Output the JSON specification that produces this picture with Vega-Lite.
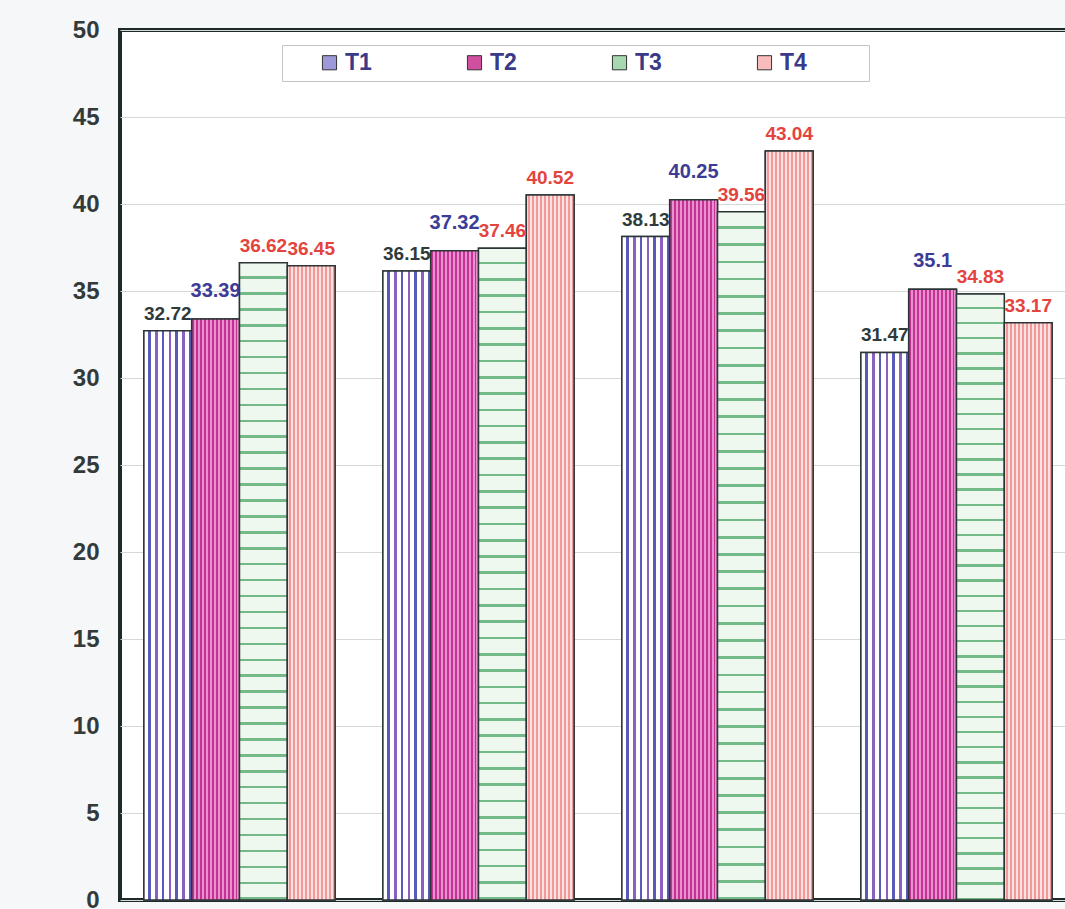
{
  "$schema": "https://vega.github.io/schema/vega-lite/v6.json",
  "width": 956,
  "height": 870,
  "autosize": {"type": "none"},
  "padding": {"left": 120, "top": 30, "right": 0, "bottom": 9},
  "background": "#f6f7f9",
  "config": {
    "view": {"stroke": "#1e2a2a", "strokeWidth": 4, "fill": "white"},
    "font": "Liberation Sans"
  },
  "data": {
    "values": [
      {"group": "G1", "series": "T1", "value": 32.72},
      {"group": "G1", "series": "T2", "value": 33.39},
      {"group": "G1", "series": "T3", "value": 36.62},
      {"group": "G1", "series": "T4", "value": 36.45},
      {"group": "G2", "series": "T1", "value": 36.15},
      {"group": "G2", "series": "T2", "value": 37.32},
      {"group": "G2", "series": "T3", "value": 37.46},
      {"group": "G2", "series": "T4", "value": 40.52},
      {"group": "G3", "series": "T1", "value": 38.13},
      {"group": "G3", "series": "T2", "value": 40.25},
      {"group": "G3", "series": "T3", "value": 39.56},
      {"group": "G3", "series": "T4", "value": 43.04},
      {"group": "G4", "series": "T1", "value": 31.47},
      {"group": "G4", "series": "T2", "value": 35.1},
      {"group": "G4", "series": "T3", "value": 34.83},
      {"group": "G4", "series": "T4", "value": 33.17}
    ]
  },
  "encoding": {
    "x": {"field": "group", "type": "nominal", "axis": null,
          "scale": {"paddingInner": 0.2, "paddingOuter": 0.1}},
    "xOffset": {"field": "series", "type": "nominal",
                "scale": {"domain": ["T1", "T2", "T3", "T4"], "paddingInner": 0, "paddingOuter": 0}},
    "y": {"field": "value", "type": "quantitative",
          "scale": {"domain": [0, 50], "nice": false},
          "axis": {"title": null, "values": [0, 5, 10, 15, 20, 25, 30, 35, 40, 45, 50],
                   "domain": false, "ticks": false, "labelPadding": 21,
                   "labelFont": "Liberation Sans", "labelFontWeight": "bold", "labelFontSize": 24,
                   "labelColor": "#333a3a", "gridColor": "#d6d8d8", "gridWidth": 1}}
  },
  "layer": [
    {
      "mark": {"type": "bar", "stroke": "#2b3535", "strokeWidth": 1.5},
      "encoding": {
        "fill": {"field": "series", "type": "nominal",
                 "scale": {"domain": ["T1", "T2", "T3", "T4"],
                           "range": ["#9d98d8", "#d0509f", "#a8d8b0", "#f8bcbc"]},
                 "legend": {"title": "\u2003", "titleOrient": "right", "titlePadding": 56, "titleFontSize": 22,
                            "orient": "none", "legendX": 162, "legendY": 15,
                            "direction": "horizontal", "fillColor": "white", "strokeColor": "#c4c4c4",
                            "padding": 6, "symbolType": "square", "symbolSize": 200,
                            "symbolStrokeColor": "#333", "symbolStrokeWidth": 1,
                            "symbolOffset": 30, "columnPadding": 61,
                            "labelFont": "Liberation Sans", "labelFontWeight": "bold", "labelFontSize": 23,
                            "labelColor": "#3a3a88", "labelOffset": 4}}
      }
    },
    {
      "transform": [{"filter": "datum.series === 'T1'"}],
      "mark": {"type": "bar", "stroke": "#2b3535", "strokeWidth": 1.5,
               "fill": {"gradient": "linear", "x1": 0, "y1": 0, "x2": 1, "y2": 0, "stops": [
                 {"offset": 0, "color": "#ffffff"}, {"offset": 0.09, "color": "#ffffff"}, {"offset": 0.09, "color": "#5a5ab8"}, {"offset": 0.143, "color": "#5a5ab8"},
                 {"offset": 0.143, "color": "#ffffff"}, {"offset": 0.233, "color": "#ffffff"}, {"offset": 0.233, "color": "#8a60c0"}, {"offset": 0.286, "color": "#8a60c0"},
                 {"offset": 0.286, "color": "#ffffff"}, {"offset": 0.376, "color": "#ffffff"}, {"offset": 0.376, "color": "#5a5ab8"}, {"offset": 0.429, "color": "#5a5ab8"},
                 {"offset": 0.429, "color": "#ffffff"}, {"offset": 0.519, "color": "#ffffff"}, {"offset": 0.519, "color": "#8a60c0"}, {"offset": 0.571, "color": "#8a60c0"},
                 {"offset": 0.571, "color": "#ffffff"}, {"offset": 0.661, "color": "#ffffff"}, {"offset": 0.661, "color": "#5a5ab8"}, {"offset": 0.714, "color": "#5a5ab8"},
                 {"offset": 0.714, "color": "#ffffff"}, {"offset": 0.804, "color": "#ffffff"}, {"offset": 0.804, "color": "#8a60c0"}, {"offset": 0.857, "color": "#8a60c0"},
                 {"offset": 0.857, "color": "#ffffff"}, {"offset": 0.947, "color": "#ffffff"}, {"offset": 0.947, "color": "#5a5ab8"}, {"offset": 1, "color": "#5a5ab8"}
               ]}},
      "encoding": {}
    },
    {
      "transform": [{"filter": "datum.series === 'T2'"}],
      "mark": {"type": "bar", "stroke": "#2b3535", "strokeWidth": 1.5,
               "fill": {"gradient": "linear", "x1": 0, "y1": 0, "x2": 1, "y2": 0, "stops": [
                 {"offset": 0, "color": "#c23394"}, {"offset": 0.042, "color": "#c23394"}, {"offset": 0.042, "color": "#ea8fcf"}, {"offset": 0.083, "color": "#ea8fcf"},
                 {"offset": 0.083, "color": "#c23394"}, {"offset": 0.125, "color": "#c23394"}, {"offset": 0.125, "color": "#ea8fcf"}, {"offset": 0.167, "color": "#ea8fcf"},
                 {"offset": 0.167, "color": "#c23394"}, {"offset": 0.208, "color": "#c23394"}, {"offset": 0.208, "color": "#ea8fcf"}, {"offset": 0.25, "color": "#ea8fcf"},
                 {"offset": 0.25, "color": "#c23394"}, {"offset": 0.292, "color": "#c23394"}, {"offset": 0.292, "color": "#ea8fcf"}, {"offset": 0.333, "color": "#ea8fcf"},
                 {"offset": 0.333, "color": "#c23394"}, {"offset": 0.375, "color": "#c23394"}, {"offset": 0.375, "color": "#ea8fcf"}, {"offset": 0.417, "color": "#ea8fcf"},
                 {"offset": 0.417, "color": "#c23394"}, {"offset": 0.458, "color": "#c23394"}, {"offset": 0.458, "color": "#ea8fcf"}, {"offset": 0.5, "color": "#ea8fcf"},
                 {"offset": 0.5, "color": "#c23394"}, {"offset": 0.542, "color": "#c23394"}, {"offset": 0.542, "color": "#ea8fcf"}, {"offset": 0.583, "color": "#ea8fcf"},
                 {"offset": 0.583, "color": "#c23394"}, {"offset": 0.625, "color": "#c23394"}, {"offset": 0.625, "color": "#ea8fcf"}, {"offset": 0.667, "color": "#ea8fcf"},
                 {"offset": 0.667, "color": "#c23394"}, {"offset": 0.708, "color": "#c23394"}, {"offset": 0.708, "color": "#ea8fcf"}, {"offset": 0.75, "color": "#ea8fcf"},
                 {"offset": 0.75, "color": "#c23394"}, {"offset": 0.792, "color": "#c23394"}, {"offset": 0.792, "color": "#ea8fcf"}, {"offset": 0.833, "color": "#ea8fcf"},
                 {"offset": 0.833, "color": "#c23394"}, {"offset": 0.875, "color": "#c23394"}, {"offset": 0.875, "color": "#ea8fcf"}, {"offset": 0.917, "color": "#ea8fcf"},
                 {"offset": 0.917, "color": "#c23394"}, {"offset": 0.958, "color": "#c23394"}, {"offset": 0.958, "color": "#ea8fcf"}, {"offset": 1, "color": "#ea8fcf"}
               ]}},
      "encoding": {}
    },
    {
      "transform": [{"filter": "datum.series === 'T3'"}],
      "mark": {"type": "bar", "stroke": "#2b3535", "strokeWidth": 1.5,
               "fill": {"gradient": "linear", "x1": 0, "y1": 0, "x2": 0, "y2": 1, "stops": [
                 {"offset": 0, "color": "#eef8ef"}, {"offset": 0.021, "color": "#eef8ef"}, {"offset": 0.021, "color": "#74b988"}, {"offset": 0.025, "color": "#74b988"},
                 {"offset": 0.025, "color": "#eef8ef"}, {"offset": 0.046, "color": "#eef8ef"}, {"offset": 0.046, "color": "#74b988"}, {"offset": 0.05, "color": "#74b988"},
                 {"offset": 0.05, "color": "#eef8ef"}, {"offset": 0.071, "color": "#eef8ef"}, {"offset": 0.071, "color": "#74b988"}, {"offset": 0.075, "color": "#74b988"},
                 {"offset": 0.075, "color": "#eef8ef"}, {"offset": 0.096, "color": "#eef8ef"}, {"offset": 0.096, "color": "#74b988"}, {"offset": 0.1, "color": "#74b988"},
                 {"offset": 0.1, "color": "#eef8ef"}, {"offset": 0.121, "color": "#eef8ef"}, {"offset": 0.121, "color": "#74b988"}, {"offset": 0.125, "color": "#74b988"},
                 {"offset": 0.125, "color": "#eef8ef"}, {"offset": 0.146, "color": "#eef8ef"}, {"offset": 0.146, "color": "#74b988"}, {"offset": 0.15, "color": "#74b988"},
                 {"offset": 0.15, "color": "#eef8ef"}, {"offset": 0.171, "color": "#eef8ef"}, {"offset": 0.171, "color": "#74b988"}, {"offset": 0.175, "color": "#74b988"},
                 {"offset": 0.175, "color": "#eef8ef"}, {"offset": 0.196, "color": "#eef8ef"}, {"offset": 0.196, "color": "#74b988"}, {"offset": 0.2, "color": "#74b988"},
                 {"offset": 0.2, "color": "#eef8ef"}, {"offset": 0.221, "color": "#eef8ef"}, {"offset": 0.221, "color": "#74b988"}, {"offset": 0.225, "color": "#74b988"},
                 {"offset": 0.225, "color": "#eef8ef"}, {"offset": 0.246, "color": "#eef8ef"}, {"offset": 0.246, "color": "#74b988"}, {"offset": 0.25, "color": "#74b988"},
                 {"offset": 0.25, "color": "#eef8ef"}, {"offset": 0.271, "color": "#eef8ef"}, {"offset": 0.271, "color": "#74b988"}, {"offset": 0.275, "color": "#74b988"},
                 {"offset": 0.275, "color": "#eef8ef"}, {"offset": 0.296, "color": "#eef8ef"}, {"offset": 0.296, "color": "#74b988"}, {"offset": 0.3, "color": "#74b988"},
                 {"offset": 0.3, "color": "#eef8ef"}, {"offset": 0.321, "color": "#eef8ef"}, {"offset": 0.321, "color": "#74b988"}, {"offset": 0.325, "color": "#74b988"},
                 {"offset": 0.325, "color": "#eef8ef"}, {"offset": 0.346, "color": "#eef8ef"}, {"offset": 0.346, "color": "#74b988"}, {"offset": 0.35, "color": "#74b988"},
                 {"offset": 0.35, "color": "#eef8ef"}, {"offset": 0.371, "color": "#eef8ef"}, {"offset": 0.371, "color": "#74b988"}, {"offset": 0.375, "color": "#74b988"},
                 {"offset": 0.375, "color": "#eef8ef"}, {"offset": 0.396, "color": "#eef8ef"}, {"offset": 0.396, "color": "#74b988"}, {"offset": 0.4, "color": "#74b988"},
                 {"offset": 0.4, "color": "#eef8ef"}, {"offset": 0.421, "color": "#eef8ef"}, {"offset": 0.421, "color": "#74b988"}, {"offset": 0.425, "color": "#74b988"},
                 {"offset": 0.425, "color": "#eef8ef"}, {"offset": 0.446, "color": "#eef8ef"}, {"offset": 0.446, "color": "#74b988"}, {"offset": 0.45, "color": "#74b988"},
                 {"offset": 0.45, "color": "#eef8ef"}, {"offset": 0.471, "color": "#eef8ef"}, {"offset": 0.471, "color": "#74b988"}, {"offset": 0.475, "color": "#74b988"},
                 {"offset": 0.475, "color": "#eef8ef"}, {"offset": 0.496, "color": "#eef8ef"}, {"offset": 0.496, "color": "#74b988"}, {"offset": 0.5, "color": "#74b988"},
                 {"offset": 0.5, "color": "#eef8ef"}, {"offset": 0.521, "color": "#eef8ef"}, {"offset": 0.521, "color": "#74b988"}, {"offset": 0.525, "color": "#74b988"},
                 {"offset": 0.525, "color": "#eef8ef"}, {"offset": 0.546, "color": "#eef8ef"}, {"offset": 0.546, "color": "#74b988"}, {"offset": 0.55, "color": "#74b988"},
                 {"offset": 0.55, "color": "#eef8ef"}, {"offset": 0.571, "color": "#eef8ef"}, {"offset": 0.571, "color": "#74b988"}, {"offset": 0.575, "color": "#74b988"},
                 {"offset": 0.575, "color": "#eef8ef"}, {"offset": 0.596, "color": "#eef8ef"}, {"offset": 0.596, "color": "#74b988"}, {"offset": 0.6, "color": "#74b988"},
                 {"offset": 0.6, "color": "#eef8ef"}, {"offset": 0.621, "color": "#eef8ef"}, {"offset": 0.621, "color": "#74b988"}, {"offset": 0.625, "color": "#74b988"},
                 {"offset": 0.625, "color": "#eef8ef"}, {"offset": 0.646, "color": "#eef8ef"}, {"offset": 0.646, "color": "#74b988"}, {"offset": 0.65, "color": "#74b988"},
                 {"offset": 0.65, "color": "#eef8ef"}, {"offset": 0.671, "color": "#eef8ef"}, {"offset": 0.671, "color": "#74b988"}, {"offset": 0.675, "color": "#74b988"},
                 {"offset": 0.675, "color": "#eef8ef"}, {"offset": 0.696, "color": "#eef8ef"}, {"offset": 0.696, "color": "#74b988"}, {"offset": 0.7, "color": "#74b988"},
                 {"offset": 0.7, "color": "#eef8ef"}, {"offset": 0.721, "color": "#eef8ef"}, {"offset": 0.721, "color": "#74b988"}, {"offset": 0.725, "color": "#74b988"},
                 {"offset": 0.725, "color": "#eef8ef"}, {"offset": 0.746, "color": "#eef8ef"}, {"offset": 0.746, "color": "#74b988"}, {"offset": 0.75, "color": "#74b988"},
                 {"offset": 0.75, "color": "#eef8ef"}, {"offset": 0.771, "color": "#eef8ef"}, {"offset": 0.771, "color": "#74b988"}, {"offset": 0.775, "color": "#74b988"},
                 {"offset": 0.775, "color": "#eef8ef"}, {"offset": 0.796, "color": "#eef8ef"}, {"offset": 0.796, "color": "#74b988"}, {"offset": 0.8, "color": "#74b988"},
                 {"offset": 0.8, "color": "#eef8ef"}, {"offset": 0.821, "color": "#eef8ef"}, {"offset": 0.821, "color": "#74b988"}, {"offset": 0.825, "color": "#74b988"},
                 {"offset": 0.825, "color": "#eef8ef"}, {"offset": 0.846, "color": "#eef8ef"}, {"offset": 0.846, "color": "#74b988"}, {"offset": 0.85, "color": "#74b988"},
                 {"offset": 0.85, "color": "#eef8ef"}, {"offset": 0.871, "color": "#eef8ef"}, {"offset": 0.871, "color": "#74b988"}, {"offset": 0.875, "color": "#74b988"},
                 {"offset": 0.875, "color": "#eef8ef"}, {"offset": 0.896, "color": "#eef8ef"}, {"offset": 0.896, "color": "#74b988"}, {"offset": 0.9, "color": "#74b988"},
                 {"offset": 0.9, "color": "#eef8ef"}, {"offset": 0.921, "color": "#eef8ef"}, {"offset": 0.921, "color": "#74b988"}, {"offset": 0.925, "color": "#74b988"},
                 {"offset": 0.925, "color": "#eef8ef"}, {"offset": 0.946, "color": "#eef8ef"}, {"offset": 0.946, "color": "#74b988"}, {"offset": 0.95, "color": "#74b988"},
                 {"offset": 0.95, "color": "#eef8ef"}, {"offset": 0.971, "color": "#eef8ef"}, {"offset": 0.971, "color": "#74b988"}, {"offset": 0.975, "color": "#74b988"},
                 {"offset": 0.975, "color": "#eef8ef"}, {"offset": 0.996, "color": "#eef8ef"}, {"offset": 0.996, "color": "#74b988"}, {"offset": 1, "color": "#74b988"}
               ]}},
      "encoding": {}
    },
    {
      "transform": [{"filter": "datum.series === 'T4'"}],
      "mark": {"type": "bar", "stroke": "#2b3535", "strokeWidth": 1.5,
               "fill": {"gradient": "linear", "x1": 0, "y1": 0, "x2": 1, "y2": 0, "stops": [
                 {"offset": 0, "color": "#fde2e2"}, {"offset": 0.045, "color": "#fde2e2"}, {"offset": 0.045, "color": "#f29898"}, {"offset": 0.083, "color": "#f29898"},
                 {"offset": 0.083, "color": "#fde2e2"}, {"offset": 0.128, "color": "#fde2e2"}, {"offset": 0.128, "color": "#f29898"}, {"offset": 0.167, "color": "#f29898"},
                 {"offset": 0.167, "color": "#fde2e2"}, {"offset": 0.212, "color": "#fde2e2"}, {"offset": 0.212, "color": "#f29898"}, {"offset": 0.25, "color": "#f29898"},
                 {"offset": 0.25, "color": "#fde2e2"}, {"offset": 0.295, "color": "#fde2e2"}, {"offset": 0.295, "color": "#f29898"}, {"offset": 0.333, "color": "#f29898"},
                 {"offset": 0.333, "color": "#fde2e2"}, {"offset": 0.378, "color": "#fde2e2"}, {"offset": 0.378, "color": "#f29898"}, {"offset": 0.417, "color": "#f29898"},
                 {"offset": 0.417, "color": "#fde2e2"}, {"offset": 0.462, "color": "#fde2e2"}, {"offset": 0.462, "color": "#f29898"}, {"offset": 0.5, "color": "#f29898"},
                 {"offset": 0.5, "color": "#fde2e2"}, {"offset": 0.545, "color": "#fde2e2"}, {"offset": 0.545, "color": "#f29898"}, {"offset": 0.583, "color": "#f29898"},
                 {"offset": 0.583, "color": "#fde2e2"}, {"offset": 0.628, "color": "#fde2e2"}, {"offset": 0.628, "color": "#f29898"}, {"offset": 0.667, "color": "#f29898"},
                 {"offset": 0.667, "color": "#fde2e2"}, {"offset": 0.712, "color": "#fde2e2"}, {"offset": 0.712, "color": "#f29898"}, {"offset": 0.75, "color": "#f29898"},
                 {"offset": 0.75, "color": "#fde2e2"}, {"offset": 0.795, "color": "#fde2e2"}, {"offset": 0.795, "color": "#f29898"}, {"offset": 0.833, "color": "#f29898"},
                 {"offset": 0.833, "color": "#fde2e2"}, {"offset": 0.878, "color": "#fde2e2"}, {"offset": 0.878, "color": "#f29898"}, {"offset": 0.917, "color": "#f29898"},
                 {"offset": 0.917, "color": "#fde2e2"}, {"offset": 0.962, "color": "#fde2e2"}, {"offset": 0.962, "color": "#f29898"}, {"offset": 1, "color": "#f29898"}
               ]}},
      "encoding": {}
    },
    {
      "transform": [{"filter": "datum.series !== 'T2'"}],
      "mark": {"type": "text", "baseline": "bottom", "dy": -7, "font": "Liberation Sans",
               "fontWeight": "bold", "fontSize": 19},
      "encoding": {
        "text": {"field": "value", "type": "quantitative"},
        "color": {"field": "series", "type": "nominal", "legend": null,
                  "scale": {"domain": ["T1", "T2", "T3", "T4"],
                            "range": ["#2f3b3b", "#3c3c96", "#e4443e", "#e4443e"]}}
      }
    },
    {
      "transform": [{"filter": "datum.series === 'T2'"}],
      "mark": {"type": "text", "baseline": "bottom", "dy": -18, "font": "Liberation Sans",
               "fontWeight": "bold", "fontSize": 20},
      "encoding": {
        "text": {"field": "value", "type": "quantitative"},
        "color": {"field": "series", "type": "nominal", "legend": null,
                  "scale": {"domain": ["T1", "T2", "T3", "T4"],
                            "range": ["#2f3b3b", "#3c3c96", "#e4443e", "#e4443e"]}}
      }
    }
  ]
}
